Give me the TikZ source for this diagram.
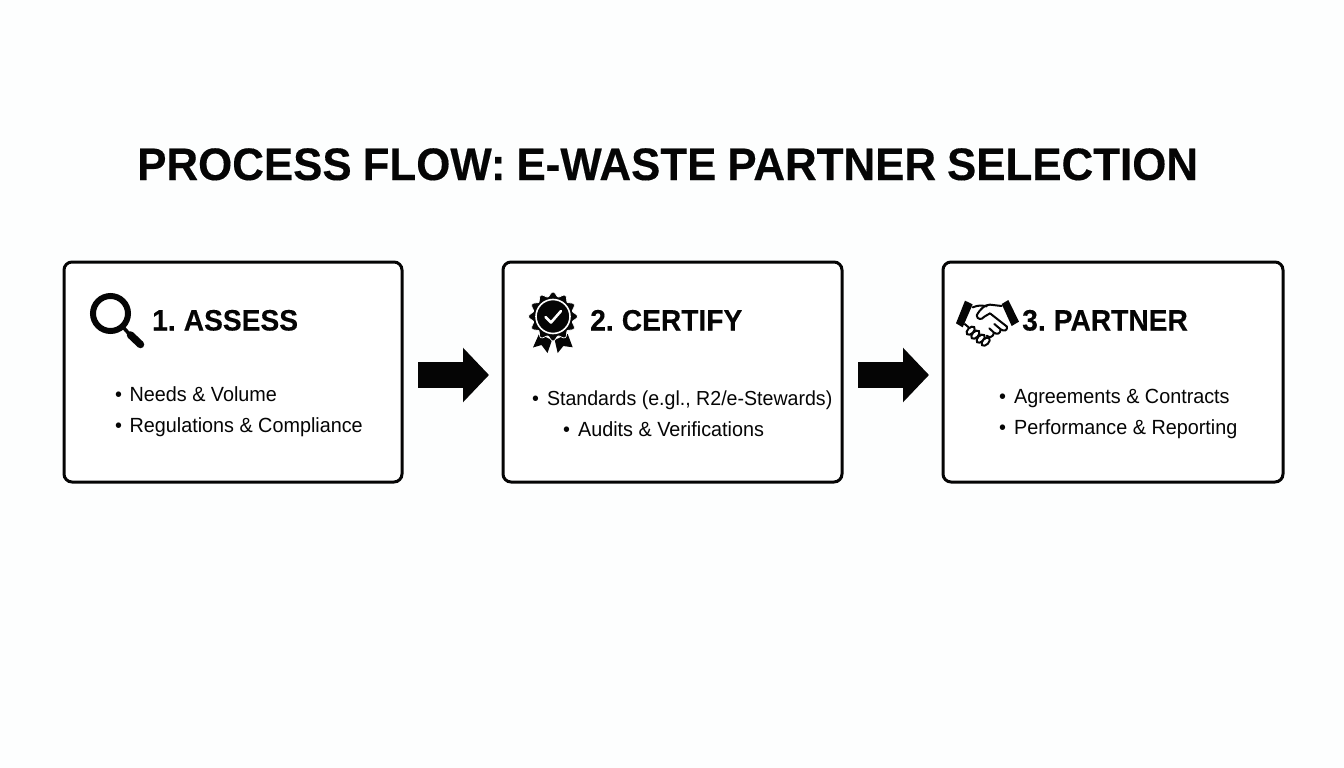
\documentclass[tikz,border=0pt]{standalone}
\usepackage{fontspec}
\setmainfont{Liberation Sans}
\newfontfamily\titlebold[FakeStretch=0.964,WordSpace=0.9,BoldFeatures={FakeBold=0.3}]{Liberation Sans}
\newfontfamily\headfont[FakeStretch=0.955,WordSpace=0.7,BoldFeatures={FakeBold=0.2}]{Liberation Sans}
\newfontfamily\itemfont[FakeStretch=0.965]{Liberation Sans}
\usetikzlibrary{arrows.meta}
\definecolor{ink}{HTML}{050505}
\definecolor{paper}{HTML}{FDFEFE}
\tikzset{
  card/.style={draw=ink,line width=3pt,rounded corners=8pt,fill=white,minimum height=220pt,inner sep=0pt,outer sep=0pt,anchor=north west},
  heading/.style={anchor=base west,inner sep=0pt,font=\headfont\fontsize{29.5}{32}\selectfont\bfseries,text=ink},
  item/.style={anchor=base west,inner sep=0pt,font=\itemfont\fontsize{20.5}{24}\selectfont,text=ink},
  blockarrow/.style={draw=ink,line width=26pt,-{Triangle[length=26pt,width=53pt]},shorten >=0pt},
  hand/.style={draw=ink,line width=2pt,line cap=round,line join=round},
  lobe/.style={draw=ink,fill=white,line width=2pt}
}
\begin{document}
\begin{tikzpicture}[x=1pt,y=-1pt]
\useasboundingbox (0,0) rectangle (1344,768);
\fill[paper] (0,0) rectangle (1344,768);
\node[anchor=base west,inner sep=0pt,font=\titlebold\fontsize{45.5}{50}\selectfont\bfseries,text=ink] (title) at (137,180) {PROCESS FLOW: E-WASTE PARTNER SELECTION};
\node[card,minimum width=338pt] (b1) at (64,262) {};
\node[card,minimum width=339pt] (b2) at (503,262) {};
\node[card,minimum width=340pt] (b3) at (943,262) {};
\draw[blockarrow] ([xshift=16pt,yshift=-3pt]b1.east) -- ([xshift=-14pt,yshift=-3pt]b2.west);
\draw[blockarrow] ([xshift=16pt,yshift=-3pt]b2.east) -- ([xshift=-14pt,yshift=-3pt]b3.west);
\node[heading] (h1) at (152,330.5) {1. ASSESS};
\node[heading] (h2) at (590,330.5) {2. CERTIFY};
\node[heading] (h3) at (1022,330.5) {3. PARTNER};
\node[item] (i1a) at (115,401) {•\hspace{7.5pt}Needs \& Volume};
\node[item] (i1b) at (115,432) {•\hspace{7.5pt}Regulations \& Compliance};
\node[item,font=\itemfont\fontsize{20.3}{24}\selectfont] (i2a) at (532,405.5) {•\hspace{8pt}Standards (e.gl., R2/e-Stewards)};
\node[item] (i2b) at (563,436) {•\hspace{8pt}Audits \& Verifications};
\node[item] (i3a) at (999,403) {•\hspace{8pt}Agreements \& Contracts};
\node[item] (i3b) at (999,434) {•\hspace{8pt}Performance \& Reporting};
% magnifier
\draw[ink,line width=6pt] (110.5,313.5) circle[radius=17.5];
\draw[ink,line width=3.5pt] (123,327) -- (131,336);
\draw[ink,line width=7.5pt,line cap=round] (130.5,335) -- (140.5,344.5);
% rosette
\fill[ink] (539,334) -- (533,347.5) -- (541.5,345) -- (547.5,353) -- (552,340) -- cycle;
\fill[ink] (567.7,334) -- (572.7,347.3) -- (563.3,346) -- (557.7,353) -- (554.7,340) -- cycle;
\filldraw[fill=ink,draw=white,line width=0.7pt] plot[smooth cycle,samples=96,domain=0:356.25,variable=\t] ({553+(22.3+2.2*cos(12*\t))*cos(\t)},{316.5+(22.3+2.2*cos(12*\t))*sin(\t)});
\draw[white,line width=1.6pt] (553,316.5) circle[radius=17];
\draw[white,line width=2.6pt,line cap=round,line join=round] (545.5,317) -- (551,322.5) -- (561,311);
% handshake
\begin{scope}[x=0.3333pt,y=-0.3333pt,shift={(950pt,-290pt)}]
\fill[ink] (45,32) -- (68,43) -- (38,112) -- (18,100) -- cycle;
\fill[ink] (155,42) -- (175,30) -- (207,95) -- (185,108) -- cycle;
\draw[hand] (68,52) .. controls (85,45) and (95,46) .. (110,49);
\draw[hand] (155,48) -- (120,44) .. controls (105,44) and (92,55) .. (80,76) .. controls (82,90) and (95,90) .. (103,80) -- (120,70) -- (171,110);
\draw[hand] (44,102) -- (56,112);
\draw[hand] (171,110) .. controls (173,124) and (160,124) .. (152,118) -- (133,102);
\draw[hand] (152,118) .. controls (152,132) and (140,134) .. (132,128) -- (118,115);
\draw[hand] (132,128) .. controls (130,142) and (118,144) .. (110,137);
\foreach \p in {(62,122),(76,134),(92,146),(107,155)}
  \draw[lobe,rotate around={45:\p}] \p ellipse[x radius=15,y radius=9];
\end{scope}
\end{tikzpicture}
\end{document}
